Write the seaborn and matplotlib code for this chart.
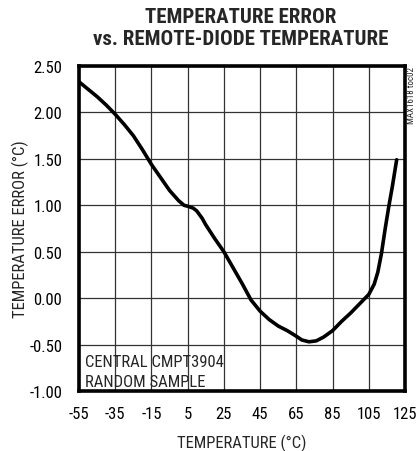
import matplotlib
matplotlib.use('Agg')
import matplotlib.pyplot as plt
import seaborn as sns
import pandas as pd

# values
temperature = [-55, -50, -45, -40, -35, -30, -25, -20, -15, -10, -5, 0, 3, 5, 8, 10, 13, 15, 20,
               25, 30, 35, 40, 45, 50, 55, 60, 65, 68, 72, 76, 80, 85, 90, 95, 100, 105,
               108, 110, 112, 114, 116, 118, 120.4]
temp_error = [2.33, 2.25, 2.17, 2.08, 1.98, 1.87, 1.75, 1.60, 1.44, 1.30, 1.16, 1.05, 1.00, 0.99, 0.97,
              0.94, 0.86, 0.79, 0.64, 0.50, 0.33, 0.16, -0.02, -0.14, -0.23, -0.30, -0.35, -0.41,
              -0.45, -0.47, -0.46, -0.42, -0.35, -0.25, -0.16, -0.06, 0.04, 0.15, 0.28, 0.48,
              0.74, 0.98, 1.20, 1.49]
x_ticks = [-55, -35, -15, 5, 25, 45, 65, 85, 105, 125]
y_ticks = [-1.0, -0.5, 0.0, 0.5, 1.0, 1.5, 2.0, 2.5]

sns.set_style('white')
plt.rcParams['font.family'] = ['Roboto Condensed', 'Archivo Narrow', 'DejaVu Sans']
plt.rcParams['font.weight'] = 'normal'

df = pd.DataFrame({'temp': temperature, 'err': temp_error})

fig = plt.figure(figsize=(4.17, 4.52), dpi=100)
ax = fig.add_axes([0.1894, 0.1327, 0.7818, 0.7191])
sns.lineplot(data=df, x='temp', y='err', ax=ax, color='black', lw=2.6, sort=False)

ax.set_xlim(-55, 125)
ax.set_ylim(-1.0, 2.5)
ax.set_xticks(x_ticks)
ax.set_yticks(y_ticks)
ax.set_xticklabels([str(t) for t in x_ticks])
ax.set_yticklabels(['{:.2f}'.format(t) for t in y_ticks])
ax.grid(True, color='#333333', lw=0.9)
ax.tick_params(length=0, labelsize=12, colors='black')
ax.tick_params(axis='x', pad=11)
ax.tick_params(axis='y', pad=12)
for s in ax.spines.values():
    s.set_color('black')
    s.set_linewidth(2.6)
ax.set_xlabel('TEMPERATURE (°C)', fontsize=12, labelpad=9)
ax.set_ylabel('TEMPERATURE ERROR (°C)', fontsize=12, labelpad=0.5)

ax.text(0.018, 0.077, 'CENTRAL CMPT3904', transform=ax.transAxes, fontsize=12, va='baseline', ha='left')
ax.text(0.018, 0.016, 'RANDOM SAMPLE', transform=ax.transAxes, fontsize=12, va='baseline', ha='left')

fig.text(0.577, 0.983, 'TEMPERATURE ERROR\nvs. REMOTE-DIODE TEMPERATURE', ha='center', va='top',
         fontsize=15, fontweight='heavy', linespacing=1.2)
fig.text(0.986, 0.851, 'MAX1618 toc02', rotation=90, ha='center', va='top', fontsize=6.5)

fig.savefig('out.png', dpi=100)
